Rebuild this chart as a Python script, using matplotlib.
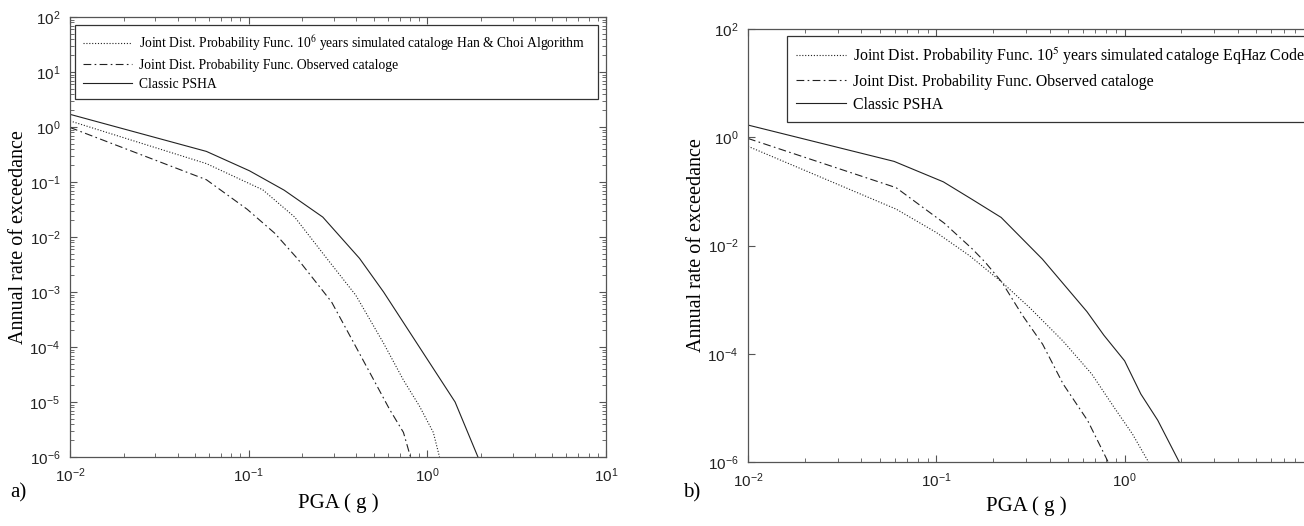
import numpy as np
import matplotlib
matplotlib.use("Agg")
import matplotlib.pyplot as plt
from matplotlib.font_manager import FontProperties
from matplotlib.ticker import LogLocator, NullLocator

plt.rcParams['font.family'] = ['Liberation Sans', 'DejaVu Sans']
plt.rcParams['mathtext.fontset'] = 'custom'
plt.rcParams['mathtext.rm'] = 'Liberation Sans'
plt.rcParams['axes.unicode_minus'] = False

# a) simulated catalogue from Han & Choi algorithm
pga_a_cls = [0.01, 0.058, 0.101, 0.158, 0.26, 0.417, 0.569, 0.902, 1.43, 1.92]
rate_a_cls = [1.7, 0.36, 0.16, 0.071, 0.023, 0.0041, 1e-3, 1e-4, 1e-5, 1e-6]
pga_a_sim = [0.01, 0.058, 0.12, 0.181, 0.275, 0.398, 0.569, 0.735, 0.902, 1.08, 1.17]
rate_a_sim = [1.29, 0.216, 0.072, 0.023, 0.004, 8.7e-4, 1.17e-4, 2.5e-5, 8.5e-6, 2.8e-6, 1e-6]
pga_a_obs = [0.01, 0.058, 0.098, 0.14, 0.188, 0.291, 0.377, 0.487, 0.614, 0.735, 0.805]
rate_a_obs = [0.98, 0.11, 0.032, 0.0117, 0.004, 6.6e-4, 1.4e-4, 3.0e-5, 7.4e-6, 2.8e-6, 1e-6]

# b) simulated catalogue from EqHaz
pga_b_cls = [0.01, 0.0597, 0.109, 0.155, 0.221, 0.366, 0.631, 0.776, 1.0, 1.22, 1.5, 1.95]
rate_b_cls = [1.68, 0.358, 0.15, 0.071, 0.033, 0.0056, 6.0e-4, 2.2e-4, 7.4e-5, 1.8e-5, 5.9e-6, 1e-6]
pga_b_sim = [0.01, 0.0612, 0.1, 0.15, 0.223, 0.316, 0.472, 0.67, 0.883, 1.1, 1.34]
rate_b_sim = [0.68, 0.047, 0.0174, 0.0065, 0.0021, 6.9e-4, 1.7e-4, 4.2e-5, 1e-5, 3.3e-6, 1e-6]
pga_b_obs = [0.01, 0.0612, 0.11, 0.155, 0.182, 0.223, 0.286, 0.367, 0.472, 0.637, 0.818]
rate_b_obs = [0.95, 0.117, 0.026, 0.0087, 0.0049, 0.0021, 5.2e-4, 1.5e-4, 2.75e-5, 5.8e-6, 1e-6]

lab_a = ["Joint Dist. Probability Func. 10$^{6}$ years simulated cataloge Han & Choi Algorithm",
         "Joint Dist. Probability Func. Observed cataloge",
         "Classic PSHA"]
lab_b = ["Joint Dist. Probability Func. 10$^{5}$ years simulated cataloge EqHaz Code",
         "Joint Dist. Probability Func. Observed cataloge",
         "Classic PSHA"]

W, H = 1304, 526
fig = plt.figure(figsize=(W / 100, H / 100), dpi=100)

def px_axes(x0, x1, y0, y1):
    return fig.add_axes([x0 / W, 1 - y1 / H, (x1 - x0) / W, (y1 - y0) / H])

ax1 = px_axes(70, 606, 17, 457)
ax2 = px_axes(748, 1304, 29, 462)

lc = '#222222'
dd = (7, 3, 1.5, 3)

def draw(ax, pc, rc, ps, rs, po, ro, labels, lsize, lspace, hlen, legbox, xmax, xpad):
    ax.plot(ps, rs, color=lc, lw=0.8, ls=(0, (1, 1.6)), label=labels[0])
    ax.plot(po, ro, color=lc, lw=0.8, ls=(0, dd), label=labels[1])
    ax.plot(pc, rc, color=lc, lw=0.8, ls='-', label=labels[2])
    ax.set_xscale('log')
    ax.set_yscale('log')
    ax.set_xlim(1e-2, xmax)
    ax.set_ylim(1e-6, 1e2)
    for s in ax.spines.values():
        s.set_color('#555555')
        s.set_linewidth(0.9)
    ax.tick_params(which='both', direction='in', top=True, right=True,
                   colors='#555555', labelcolor='#222222', labelsize=11)
    ax.tick_params(which='major', length=5, pad=7)
    ax.tick_params(which='minor', length=3)
    ax.set_xlabel("PGA ( g )", family='Liberation Serif', fontsize=15, labelpad=xpad)
    ax.set_ylabel("Annual rate of exceedance", family='Liberation Serif', fontsize=14.5)
    prop = FontProperties(family='Liberation Serif', size=lsize, math_fontfamily='stix')
    leg = ax.legend(loc='upper left', bbox_to_anchor=legbox, mode='expand',
                    borderaxespad=0, prop=prop, handlelength=hlen, labelspacing=lspace,
                    fancybox=False, framealpha=1, edgecolor='#333333',
                    borderpad=0.6, handletextpad=0.5)
    leg.get_frame().set_linewidth(0.9)

draw(ax1, pga_a_cls, rate_a_cls, pga_a_sim, rate_a_sim, pga_a_obs, rate_a_obs,
     lab_a, 9.8, 0.45, 3.6, (0.009, 0.982, 0.976, 0.0), 1e1, 6)
ax1.yaxis.set_major_locator(LogLocator(base=10, numticks=20))
ax1.yaxis.set_minor_locator(LogLocator(base=10, subs=np.arange(2, 10), numticks=20))
ax1.yaxis.set_label_coords(-0.078, 0.5)

draw(ax2, pga_b_cls, rate_b_cls, pga_b_sim, rate_b_sim, pga_b_obs, rate_b_obs,
     lab_b, 11.4, 0.45, 3.1, (0.070, 0.984, 1.05, 0.0), 8.97, 4)
ax2.yaxis.set_major_locator(LogLocator(base=100, numticks=20))
ax2.yaxis.set_minor_locator(NullLocator())
ax2.spines['right'].set_visible(False)
ax2.tick_params(which='both', right=False)
ax2.yaxis.set_label_coords(-0.076, 0.5)

fig.text(10 / W, 1 - 493 / H, "a)", family='Liberation Serif', fontsize=15, va='center')
fig.text(683 / W, 1 - 493 / H, "b)", family='Liberation Serif', fontsize=15, va='center')

fig.savefig("out.png", dpi=100)
